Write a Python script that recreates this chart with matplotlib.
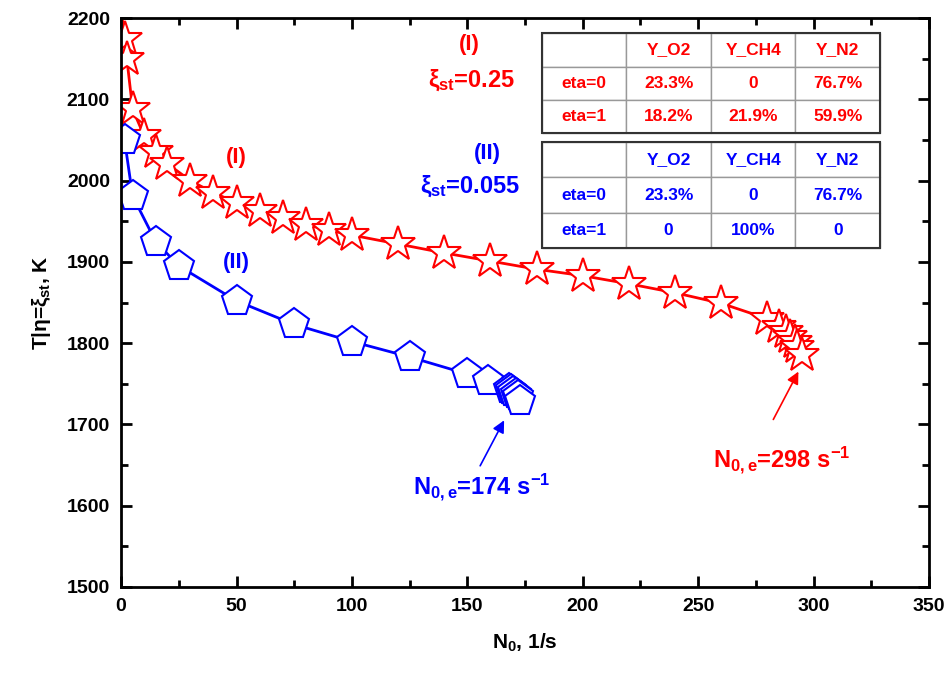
import numpy as np
import matplotlib
matplotlib.use("Agg")
import matplotlib.pyplot as plt

plt.rcParams['font.family'] = ['Liberation Sans', 'DejaVu Sans']
plt.rcParams['font.weight'] = 'bold'
plt.rcParams['axes.labelweight'] = 'bold'
plt.rcParams['mathtext.fontset'] = 'custom'
plt.rcParams['mathtext.rm'] = 'Liberation Sans:bold'
plt.rcParams['mathtext.it'] = 'Liberation Sans:bold'
plt.rcParams['mathtext.bf'] = 'Liberation Sans:bold'

# case (I), xi_st = 0.25
n0_red = [0.3, 1.5, 2.5, 5, 10, 15, 20, 30, 40, 50, 60, 70, 80, 90, 100, 120, 140,
          160, 180, 200, 220, 240, 260, 280, 285, 288, 290, 292, 293, 295]
t_red = [2205, 2174, 2150, 2088, 2055, 2035, 2021, 2000, 1985, 1973, 1963, 1954, 1946,
         1939, 1933, 1922, 1911, 1901, 1891, 1883, 1873, 1862, 1849, 1830, 1820, 1814,
         1808, 1802, 1795, 1785]

# case (II), xi_st = 0.055
n0_blue = [0.2, 1.5, 5, 15, 25, 50, 75, 100, 125, 150, 159, 168, 169, 170, 171, 172, 173]
t_blue = [2065, 2050, 1981, 1925, 1895, 1852, 1823, 1802, 1783, 1762, 1753, 1744, 1742,
          1740, 1738, 1735, 1729]

cols = ['', 'Y_O2', 'Y_CH4', 'Y_N2']
rows_red = [['eta=0', '23.3%', '0', '76.7%'],
            ['eta=1', '18.2%', '21.9%', '59.9%']]
rows_blue = [['eta=0', '23.3%', '0', '76.7%'],
             ['eta=1', '0', '100%', '0']]

fig = plt.figure(figsize=(9.46, 6.73), dpi=100)
ax = fig.add_axes([0.128, 0.128, 0.854, 0.845])

ax.plot(n0_red, t_red, color='red', lw=2, marker='*', ms=26, mfc='white', mec='red',
        mew=1.5, markevery=list(range(1, len(n0_red))))
ax.plot(n0_blue, t_blue, color='blue', lw=2, marker='p', ms=23, mfc='white', mec='blue',
        mew=1.5, markevery=list(range(1, len(n0_blue))))

ax.set_xlim(0, 350)
ax.set_ylim(1500, 2200)
ax.set_xticks(np.arange(0, 351, 50))
ax.set_xticks(np.arange(0, 351, 25), minor=True)
ax.set_yticks(np.arange(1500, 2201, 100))
ax.set_yticks(np.arange(1500, 2201, 50), minor=True)
ax.tick_params(which='both', direction='in', top=True, right=True, width=2)
ax.tick_params(which='major', length=8, labelsize=14, pad=8)
ax.tick_params(which='minor', length=5)
for s in ax.spines.values():
    s.set_linewidth(2)

ax.set_xlabel('N$_0$, 1/s', fontsize=15, labelpad=12)
ax.set_ylabel(r'T|$\eta$=$\xi_{st}$, K', fontsize=15, labelpad=10)

ax.text(151, 2167, '(I)', color='red', fontsize=16, ha='center', va='center')
ax.text(152, 2124, r'$\xi_{st}$=0.25', color='red', fontsize=17, ha='center', va='center')
ax.text(50, 2029, '(I)', color='red', fontsize=16, ha='center', va='center')
ax.text(158.7, 2034, '(II)', color='blue', fontsize=16, ha='center', va='center')
ax.text(151, 1993, r'$\xi_{st}$=0.055', color='blue', fontsize=17, ha='center', va='center')
ax.text(50, 1899, '(II)', color='blue', fontsize=16, ha='center', va='center')

ax.annotate('', xy=(166.5, 1708), xytext=(155, 1646),
            arrowprops=dict(arrowstyle='-|>', color='blue', lw=1.2, mutation_scale=18))
ax.text(156, 1623, 'N$_{0,e}$=174 s$^{-1}$', color='blue', fontsize=17,
        ha='center', va='center')
ax.annotate('', xy=(294, 1768), xytext=(282, 1703),
            arrowprops=dict(arrowstyle='-|>', color='red', lw=1.2, mutation_scale=18))
ax.text(286, 1656, 'N$_{0,e}$=298 s$^{-1}$', color='red', fontsize=17,
        ha='center', va='center')


def draw_table(data, color, bbox):
    tb = ax.table(cellText=[cols] + data, cellLoc='center', bbox=bbox)
    tb.auto_set_font_size(False)
    for (r, c), cell in tb.get_celld().items():
        cell.set_edgecolor('#999999')
        cell.set_linewidth(1)
        cell.get_text().set_color(color)
        cell.get_text().set_fontsize(12.5)
        cell.get_text().set_fontweight('bold')
    ax.add_patch(plt.Rectangle((bbox[0], bbox[1]), bbox[2], bbox[3], transform=ax.transAxes,
                               fill=False, edgecolor='#333333', lw=1.5, zorder=5))


draw_table(rows_red, 'red', [0.5207, 0.7984, 0.4187, 0.1747])
draw_table(rows_blue, 'blue', [0.5207, 0.5953, 0.4187, 0.1868])

fig.savefig('out.png', dpi=100)
